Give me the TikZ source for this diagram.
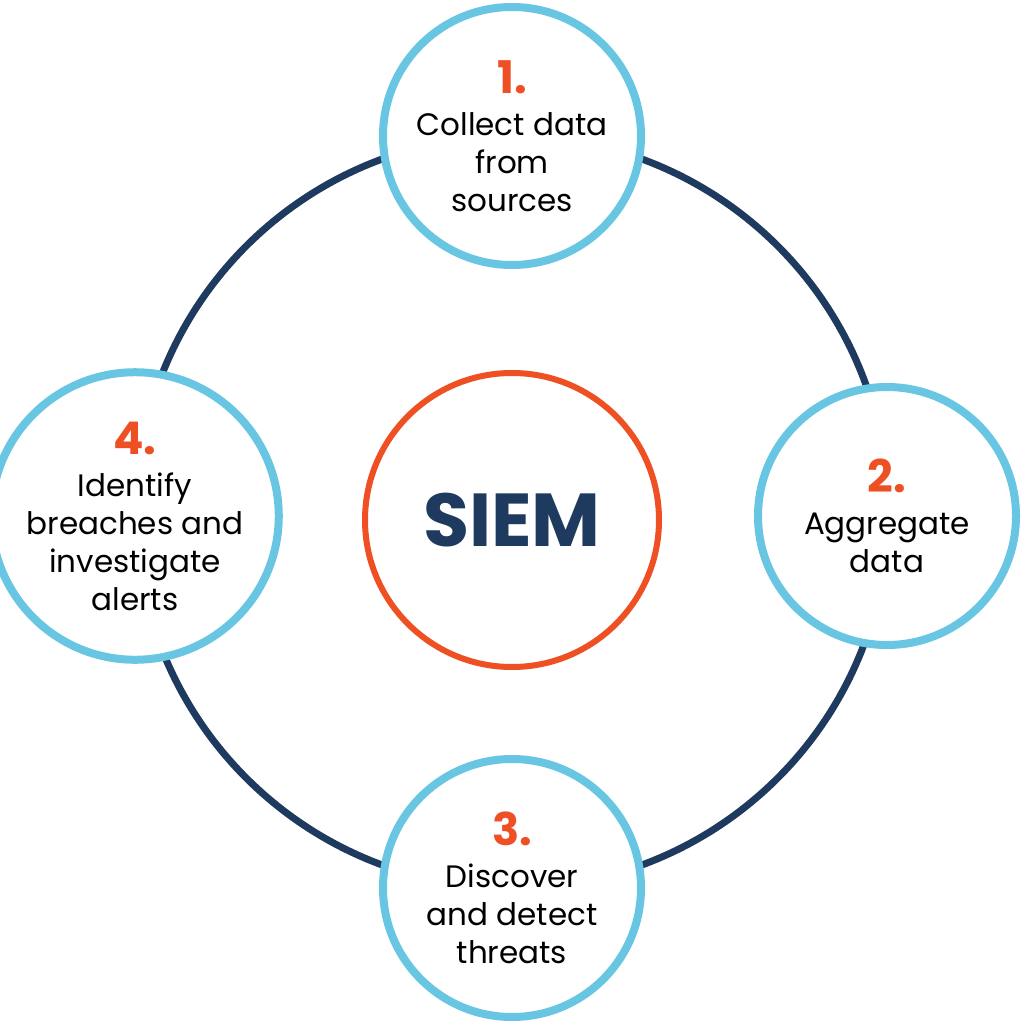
\documentclass[tikz,border=0pt]{standalone}
\usepackage{fontspec}
\setmainfont{Poppins}
\definecolor{navy}{HTML}{1E3A5F}
\definecolor{skyblue}{HTML}{69C6E2}
\definecolor{siemorange}{HTML}{EF5023}
\newcommand{\stepnum}[1]{{\fontsize{45}{45}\selectfont\bfseries\color{siemorange}#1}}
\tikzset{
  stepcircle/.style={circle, draw=skyblue, line width=8pt, fill=white,
    minimum size=258pt, inner sep=0pt, align=center,
    font=\fontsize{31}{38}\selectfont, text=black},
  hubcircle/.style={circle, draw=siemorange, line width=6pt, fill=white,
    minimum size=294pt, inner sep=0pt, text=navy,
    font=\fontsize{75}{75}\selectfont\bfseries},
}
\begin{document}
\begin{tikzpicture}[x=1pt,y=-1pt]
\useasboundingbox (0,0) rectangle (1024,1024);
\fill[white] (0,0) rectangle (1024,1024);
\coordinate (ringc) at (512,512);
\draw[navy, line width=7pt] (ringc) circle[radius=376];
\node[hubcircle] (hub) at (512,520) {SIEM};
\node[stepcircle] (s1) at (512,136) {\stepnum{1.}\\[4pt]Collect data\\from\\sources};
\node[stepcircle] (s2) at (887,516) {\stepnum{2.}\\[4pt]Aggregate\\data};
\node[stepcircle] (s3) at (512,888) {\stepnum{3.}\\[4pt]Discover\\and detect\\threats};
\node[stepcircle] (s4) at (135,516) {\stepnum{4.}\\[4pt]Identify\\breaches and\\investigate\\alerts};
\end{tikzpicture}
\end{document}
